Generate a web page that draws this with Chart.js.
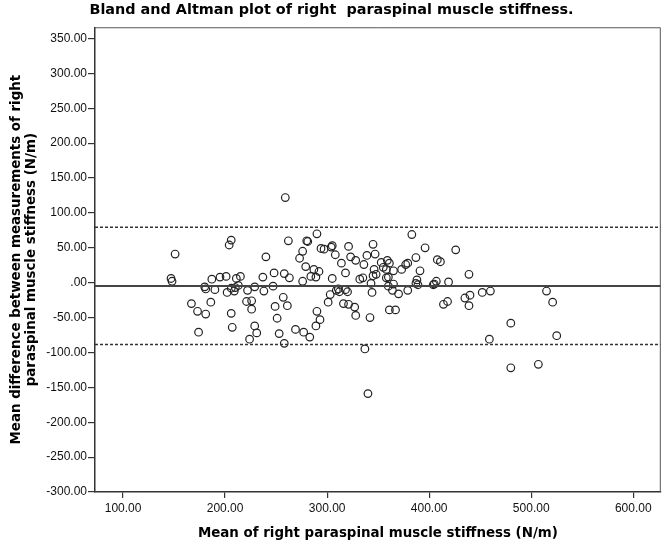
<!DOCTYPE html>
<html>
<head>
<meta charset="utf-8">
<script src="https://cdn.jsdelivr.net/npm/chart.js@4"></script>
<style>
  body { margin: 0; background: #fff; }
  canvas { display: block; }
</style>
</head>
<body>
<canvas id="bland-altman" width="666" height="545"></canvas>
<script>
// mean of the two measurements (N/m)
const meanStiffness = [
   147, 148, 151, 167, 173, 174, 180, 181, 181, 186, 187, 190, 195, 201, 202, 204, 206, 206, 206, 207,
   209, 210, 211, 213, 215, 221, 222, 224, 226, 226, 229, 229, 231, 237, 238, 240, 247, 248, 249, 251,
   253, 257, 258, 258, 259, 261, 262, 263, 269, 273, 276, 276, 277, 279, 280, 281, 283, 284, 287, 289,
   289, 290, 290, 292, 293, 294, 297, 301, 303, 304, 305, 305, 308, 309, 311, 312, 314, 316, 318, 318,
   320, 321, 321, 323, 327, 328, 328, 332, 335, 336, 337, 339, 340, 342, 343, 344, 345, 345, 346, 347,
   348, 353, 355, 358, 358, 359, 360, 360, 361, 361, 364, 365, 365, 367, 370, 373, 377, 379, 379, 383,
   387, 387, 388, 389, 391, 396, 404, 405, 407, 408, 411, 414, 418, 419, 426, 435, 439, 439, 440, 452,
   459, 460, 480, 480, 507, 515, 521, 525
]
// difference between the two measurements (N/m)
const diffStiffness = [
   6, 2, 41, -30, -41, -71, -6, -9, -45, -28, 5, -10, 8, 9, -14, 54, 61, -8, -44, -64,
   -12, -7, 6, -4, 9, -27, -11, -81, -26, -38, -6, -62, -72, 8, -12, 37, -5, 14, -34, -51,
   -73, -21, 13, -87, 122, -33, 60, 7, -67, 35, 45, 2, -71, 23, 60, 59, -78, 9, 19, 8,
   -62, 70, -41, 16, -53, 49, 48, -28, -17, 51, 53, 6, 40, -11, -9, -13, 28, -30, 14, -10,
   -13, 52, -31, 37, -35, 32, -47, 5, 7, 26, -95, 39, -159, -50, -1, -14, 55, 10, 19, 41,
   12, 29, 22, 19, 7, 32, 8, -5, 28, -39, -11, 17, -2, -39, -16, 19, 26, 28, -11, 69,
   36, -1, 4, -3, 17, 50, -3, -2, 2, 33, 30, -31, -27, 1, 47, -22, 12, -33, -18, -14,
   -81, -12, -58, -122, -117, -12, -28, -76
]

const meanDiff = -4.8
const upperLimit = 79.4
const lowerLimit = -88.6

const xRange = [72.5, 627]
const yRange = [-300, 366]
const xTicks = [100, 200, 300, 400, 500, 600]
const yTicks = [-300, -250, -200, -150, -100, -50, 0, 50, 100, 150, 200, 250, 300, 350]

const tickFont = 'Arial, "Liberation Sans", sans-serif'
const titleFont = '"DejaVu Sans", Verdana, sans-serif'

const spssFormat = v => {
   let s = Number(v).toFixed(2)
   if (s === '0.00') s = '.00'
   return s
}

const points = meanStiffness.map((m, i) => ({ x: m, y: diffStiffness[i] }))
const hLine = y => [{ x: xRange[0], y: y }, { x: xRange[1], y: y }]

// closes the box on the top and right side like SPSS does
const framePlugin = {
   id: 'frame',
   afterDraw(chart) {
      const { ctx, chartArea } = chart
      ctx.save()
      ctx.strokeStyle = '#555'
      ctx.lineWidth = 1
      ctx.beginPath()
      ctx.moveTo(chartArea.left, chartArea.top + 0.5)
      ctx.lineTo(chartArea.right - 0.5, chartArea.top + 0.5)
      ctx.lineTo(chartArea.right - 0.5, chartArea.bottom)
      ctx.stroke()
      ctx.restore()
   }
}

const ctx = document.getElementById('bland-altman')

const baChart = new Chart(ctx, {
   type: 'scatter',
   data: {
      datasets: [
         {
            label: 'Mean',
            data: hLine(meanDiff),
            showLine: true,
            borderColor: '#444',
            borderWidth: 2,
            pointRadius: 0
         },
         {
            label: 'Upper limit',
            data: hLine(upperLimit),
            showLine: true,
            borderColor: '#333',
            borderWidth: 1.5,
            borderDash: [3, 2],
            pointRadius: 0
         },
         {
            label: 'Lower limit',
            data: hLine(lowerLimit),
            showLine: true,
            borderColor: '#333',
            borderWidth: 1.5,
            borderDash: [3, 2],
            pointRadius: 0
         },
         {
            label: 'Stiffness',
            data: points,
            pointStyle: 'circle',
            pointRadius: 3.8,
            backgroundColor: 'rgba(0,0,0,0)',
            borderColor: '#222',
            borderWidth: 1.2
         }
      ]
   },
   options: {
      responsive: false,
      animation: false,
      devicePixelRatio: 1,
      layout: { padding: { left: 0, right: 3, top: 0, bottom: 0 } },
      plugins: {
         legend: { display: false },
         tooltip: { enabled: false },
         title: {
            display: true,
            text: 'Bland and Altman plot of right  paraspinal muscle stiffness.',
            color: '#000',
            font: { family: titleFont, size: 14.4, weight: 'bold', lineHeight: 1.2 },
            padding: { top: 2, bottom: 8 }
         }
      },
      scales: {
         x: {
            type: 'linear',
            min: xRange[0],
            max: xRange[1],
            afterBuildTicks: scale => { scale.ticks = xTicks.map(v => ({ value: v })) },
            afterFit: scale => { scale.height = 53 },
            border: { display: true, color: '#333', width: 1.5 },
            grid: { drawOnChartArea: false, drawTicks: true, tickLength: 6, color: '#333', lineWidth: 1.2 },
            ticks: {
               color: '#111',
               padding: 3,
               maxRotation: 0,
               font: { family: tickFont, size: 12 },
               callback: v => spssFormat(v)
            },
            title: {
               display: true,
               text: 'Mean of right paraspinal muscle stiffness (N/m)',
               color: '#000',
               font: { family: titleFont, size: 13.4, weight: 'bold', lineHeight: 1.2 },
               padding: { top: 0, bottom: 3 }
            }
         },
         y: {
            type: 'linear',
            min: yRange[0],
            max: yRange[1],
            afterBuildTicks: scale => { scale.ticks = yTicks.map(v => ({ value: v })) },
            afterFit: scale => { scale.width = 95 },
            border: { display: true, color: '#333', width: 1.5 },
            grid: { drawOnChartArea: false, drawTicks: true, tickLength: 7, color: '#333', lineWidth: 1.2 },
            ticks: {
               color: '#111',
               padding: 1,
               font: { family: tickFont, size: 12 },
               callback: v => spssFormat(v)
            },
            title: {
               display: true,
               text: ['Mean difference between measurements of right', 'paraspinal muscle stiffness (N/m)'],
               color: '#000',
               font: { family: titleFont, size: 13.4, weight: 'bold', lineHeight: 1.11 },
               padding: { top: 9.5, bottom: 0 }
            }
         }
      }
   },
   plugins: [framePlugin]
})
</script>
</body>
</html>
